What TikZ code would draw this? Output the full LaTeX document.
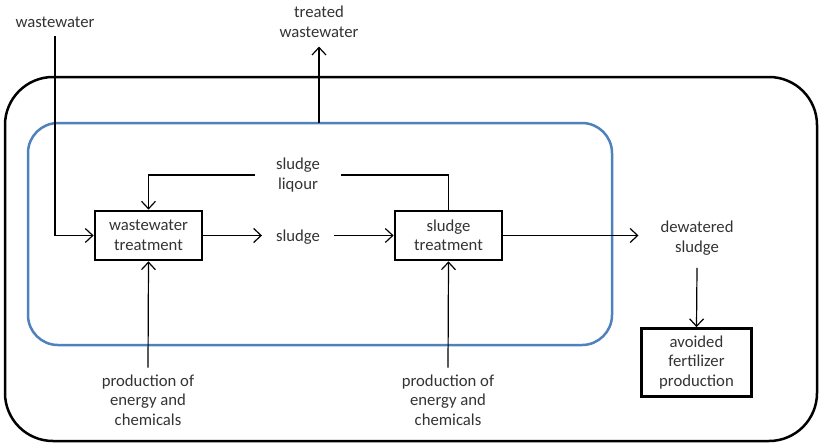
\documentclass[tikz,border=0pt]{standalone}
\usepackage{fontspec}
\setmainfont{Carlito}
\usetikzlibrary{arrows.meta}

\begin{document}
\begin{tikzpicture}[x=1pt,y=-1pt,
  lbl/.style={font=\fontsize{16.7}{19.5}\selectfont, align=center, text=black!80, inner sep=0pt},
  procbox/.style={lbl, draw=black, line width=2.7pt, minimum width=107pt, minimum height=49pt},
  flow/.style={line width=1.2pt, -{Straight Barb[length=7.5pt,width=14pt,line width=1.2pt]}},
  plain/.style={line width=1.2pt},
  systembox/.style={line width=2.5pt, rounded corners=48pt},
  plantbox/.style={draw=blue4, line width=2.5pt, rounded corners=30pt}]
\definecolor{blue4}{RGB}{79,129,189}
\useasboundingbox (0,0) rectangle (821,444);

% system boundaries
\draw[systembox] (5,77) rectangle (817,441);
\draw[plantbox] (28,123) rectangle (612,345);

% processes
\node[procbox] (wt) at (148.5,235.5) {wastewater\\treatment};
\node[procbox] (st) at (448.5,235.5) {sludge\\treatment};
\node[procbox, minimum width=110pt, minimum height=68pt] (af) at (696.5,362.5) {avoided\\fertilizer\\production};

% flows
\node[lbl, outer ysep=9pt] (win) at (55,22) {wastewater};
\node[lbl, outer ysep=9pt] (tw) at (319,22) {treated\\wastewater};
\node[lbl, outer xsep=14pt] (sl) at (298,237) {sludge};
\node[lbl, outer xsep=21.5pt] (liq) at (298,175) {sludge\\liqour};
\node[lbl, outer xsep=22pt, outer ysep=13pt] (dw) at (697,238) {dewatered\\sludge};
\node[lbl, outer ysep=7pt] (pe1) at (148,400) {production of\\energy and\\chemicals};
\node[lbl, outer ysep=7pt] (pe2) at (448,400) {production of\\energy and\\chemicals};
\coordinate (twsrc) at (319,123);

% connectors
\draw[flow] (win.south) |- (wt.west);
\draw[flow] (twsrc) -- (tw.south);
\draw[flow] (wt.east) -- (wt.east -| sl.west);
\draw[flow] (sl.east |- st.west) -- (st.west);
\draw[plain] (st.north) |- (liq.east);
\draw[flow] (liq.west) -| (wt.north);
\draw[flow] (st.east) -- (st.east -| dw.west);
\draw[flow] (dw.south) -- (af.north);
\draw[flow] (pe1.north) -- (wt.south);
\draw[flow] (pe2.north) -- (st.south);
\end{tikzpicture}
\end{document}
